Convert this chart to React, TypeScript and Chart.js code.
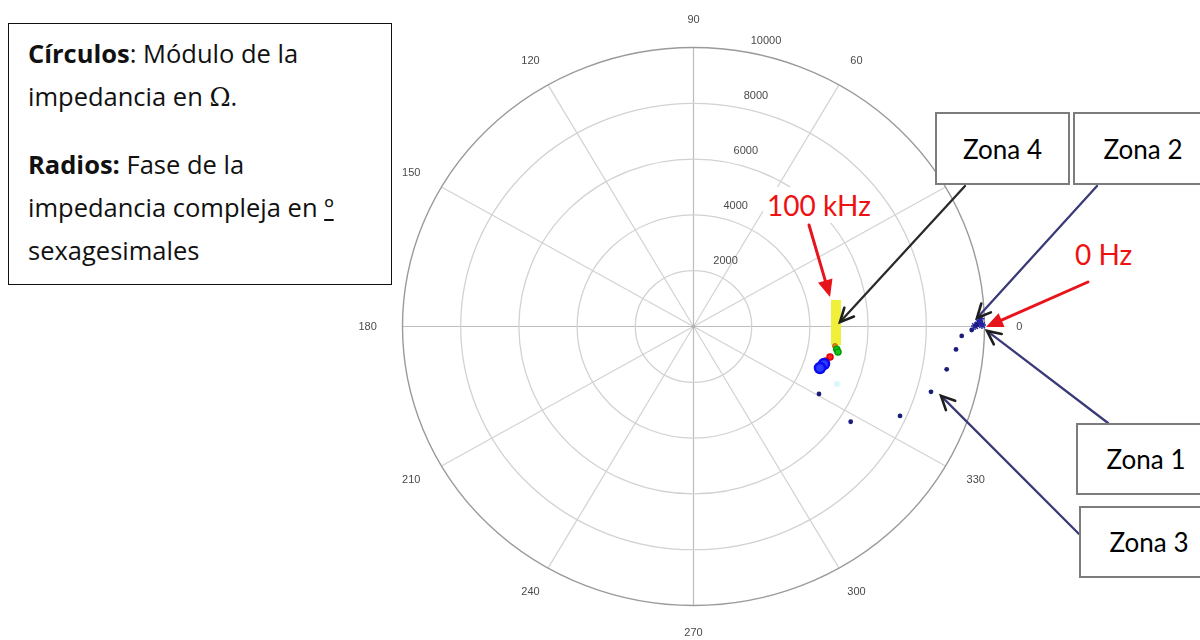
import React, { useEffect, useRef } from "react";
import { Chart, registerables } from "chart.js";

Chart.register(...registerables);

// ---- Polar grid definition ----
const ringValues = [2000, 4000, 6000, 8000, 10000];
const ringLabels = ["2000", "4000", "6000", "8000", "10000"];
const spokeAngles = [0, 30, 60, 90, 120, 150, 180, 210, 240, 270, 300, 330];
const angleLabels = ["0", "30", "60", "90", "120", "150", "180", "210", "240", "270", "300", "330"];
const rMax = 10000;

// ---- Data (module in ohm, phase in degrees) ----
// Zona 1 / Zona 3 : scattered navy dots
const dotsMag = [9732, 9561, 9223, 9058, 8835, 8490, 7787, 6390, 4945];
const dotsPhase = [0.3, -0.75, -2.1, -5.2, -10.0, -16.0, -24.3, -32.3, -29.3];
// Zona 2 : cluster close to 0 Hz
const startMag = [9812, 9914, 9674, 9860];
const startPhase = [0.9, 0.3, 0.1, 1.6];
// Zona 4 : yellow trace ending at 100 kHz
const yellowMag = [4990, 4957, 4932, 4914, 4903, 4897, 4899, 4906, 4921, 4942];
const yellowPhase = [11.0, 8.9, 6.9, 4.8, 2.7, 0.6, -1.5, -3.6, -5.6, -7.7];
// coloured markers at the bottom of the yellow trace
const orangeMag = [4913];
const orangePhase = [-8.2];
const greenMag = [4990, 5049];
const greenPhase = [-9.4, -10.4];
const redMag = [4817, 4718];
const redPhase = [-13.1, -15.2];
const blueMag = [4682, 4594];
const bluePhase = [-16.7, -18.9];
const cyanMag = [5344];
const cyanPhase = [-22.7];

// ---- Annotation arrows: targets in data units, tails in page pixels ----
const arrowTargetMag = [4809, 10052, 5037, 9747, 10087, 8862];
const arrowTargetPhase = [12.7, -0.1, 1.8, 1.8, -0.9, -16.3];
const arrowTailX = [809, 1088, 965, 1097, 1108, 1079];
const arrowTailY = [225, 282, 186, 186, 423, 534];
const arrowColor = ["#e8141c", "#e8141c", "#2a2a2a", "#3a3a78", "#3a3a78", "#3a3a78"];
const arrowHead = ["filled", "filled", "open", "open", "open", "open"];

const rad = (d: number) => (d * Math.PI) / 180;
const toXY = (mags: number[], phases: number[]) =>
  mags.map((m, i) => ({ x: m * Math.cos(rad(phases[i])), y: m * Math.sin(rad(phases[i])) }));

const polarGrid = {
  id: "polarGrid",
  beforeDatasetsDraw(chart: any) {
    const { ctx } = chart;
    const xs = chart.scales.x;
    const ys = chart.scales.y;
    const cx = xs.getPixelForValue(0);
    const cy = ys.getPixelForValue(0);
    const rx = (r: number) => xs.getPixelForValue(r) - cx;
    const ry = (r: number) => cy - ys.getPixelForValue(r);
    ctx.save();
    // spokes
    spokeAngles.forEach((a) => {
      ctx.beginPath();
      ctx.strokeStyle = a % 90 === 0 ? "#bcbcbc" : "#d2d2d2";
      ctx.lineWidth = 1.2;
      ctx.moveTo(cx, cy);
      ctx.lineTo(cx + rx(rMax) * Math.cos(rad(a)), cy - ry(rMax) * Math.sin(rad(a)));
      ctx.stroke();
    });
    // rings
    ringValues.forEach((r) => {
      ctx.beginPath();
      ctx.strokeStyle = r === rMax ? "#9a9a9a" : "#d2d2d2";
      ctx.lineWidth = r === rMax ? 1.4 : 1.3;
      ctx.ellipse(cx, cy, rx(r), ry(r), 0, 0, Math.PI * 2);
      ctx.stroke();
    });
    // center mark
    ctx.fillStyle = "#b0b0b0";
    ctx.beginPath();
    ctx.arc(cx, cy, 1.8, 0, Math.PI * 2);
    ctx.fill();
    // angle labels
    ctx.fillStyle = "#4a4a4a";
    ctx.font = '11px "Liberation Sans", Arial, sans-serif';
    ctx.textAlign = "center";
    ctx.textBaseline = "middle";
    spokeAngles.forEach((a, i) => {
      const lx = cx + rx(rMax) * 1.12 * Math.cos(rad(a));
      const ly = cy - ry(rMax) * 1.1 * Math.sin(rad(a));
      ctx.fillText(angleLabels[i], lx, ly);
    });
    // ring labels
    ringValues.forEach((r, i) => {
      const lx = cx + rx(r) * Math.cos(rad(80)) + 22;
      const ly = cy - ry(r) * Math.sin(rad(80)) - 11;
      ctx.fillText(ringLabels[i], lx, ly);
    });
    ctx.restore();
  },
  afterDatasetsDraw(chart: any) {
    const { ctx } = chart;
    const xs = chart.scales.x;
    const ys = chart.scales.y;
    arrowTargetMag.forEach((m, i) => {
      const tx = xs.getPixelForValue(m * Math.cos(rad(arrowTargetPhase[i])));
      const ty = ys.getPixelForValue(m * Math.sin(rad(arrowTargetPhase[i])));
      const sx = arrowTailX[i];
      const sy = arrowTailY[i];
      const ang = Math.atan2(ty - sy, tx - sx);
      ctx.save();
      ctx.lineCap = "round";
      if (arrowHead[i] === "filled") {
        const hl = 17;
        const hw = 7.5;
        const bx = tx - hl * Math.cos(ang);
        const by = ty - hl * Math.sin(ang);
        ctx.strokeStyle = arrowColor[i];
        ctx.lineWidth = 3;
        ctx.beginPath();
        ctx.moveTo(sx, sy);
        ctx.lineTo(bx, by);
        ctx.stroke();
        ctx.fillStyle = arrowColor[i];
        ctx.beginPath();
        ctx.moveTo(tx, ty);
        ctx.lineTo(bx + hw * Math.sin(ang), by - hw * Math.cos(ang));
        ctx.lineTo(bx - hw * Math.sin(ang), by + hw * Math.cos(ang));
        ctx.closePath();
        ctx.fill();
      } else {
        ctx.strokeStyle = arrowColor[i];
        ctx.lineWidth = 2.3;
        ctx.beginPath();
        ctx.moveTo(sx, sy);
        ctx.lineTo(tx, ty);
        ctx.stroke();
        const hl = 15;
        ctx.strokeStyle = "#1e1e1e";
        ctx.lineWidth = 2.6;
        ctx.beginPath();
        ctx.moveTo(tx - hl * Math.cos(ang - 0.45), ty - hl * Math.sin(ang - 0.45));
        ctx.lineTo(tx, ty);
        ctx.lineTo(tx - hl * Math.cos(ang + 0.45), ty - hl * Math.sin(ang + 0.45));
        ctx.stroke();
      }
      ctx.restore();
    });
  },
};

const textFont = 'Lato, "Open Sans", sans-serif';
const boxFont = '"Open Sans", Lato, sans-serif';

export default function App() {
  const ref = useRef<HTMLCanvasElement | null>(null);

  useEffect(() => {
    if (!ref.current) return;
    const chart = new Chart(ref.current, {
      type: "scatter",
      data: {
        datasets: [
          {
            label: "azul",
            data: toXY(blueMag, bluePhase),
            pointRadius: 5,
            pointBorderWidth: 2.5,
            pointBorderColor: "#0a0af0",
            pointBackgroundColor: "#2a3cff",
            order: 1,
            clip: false,
          } as any,
          {
            label: "rojo",
            data: toXY(redMag, redPhase),
            pointRadius: 3,
            pointBorderWidth: 1.5,
            pointBorderColor: "#e00000",
            pointBackgroundColor: "#ff2020",
            order: 2,
            clip: false,
          },
          {
            label: "verde",
            data: toXY(greenMag, greenPhase),
            pointRadius: 3,
            pointBorderWidth: 1.5,
            pointBorderColor: "#00a000",
            pointBackgroundColor: "#20c020",
            order: 3,
            clip: false,
          },
          {
            label: "naranja",
            data: toXY(orangeMag, orangePhase),
            pointRadius: 2.5,
            pointBorderWidth: 1,
            pointBorderColor: "#c86400",
            pointBackgroundColor: "#e08020",
            order: 4,
            clip: false,
          },
          {
            label: "Zona 4",
            data: toXY(yellowMag, yellowPhase),
            showLine: true,
            borderColor: "#f0f03a",
            borderWidth: 10,
            borderCapStyle: "butt",
            pointRadius: 0,
            order: 6,
            clip: false,
          } as any,
          {
            label: "cian",
            data: toXY(cyanMag, cyanPhase),
            pointRadius: 3,
            pointBorderWidth: 0,
            pointBackgroundColor: "#d8f8fc",
            order: 7,
            clip: false,
          },
          {
            label: "Zona 1 y 3",
            data: toXY(dotsMag, dotsPhase),
            pointRadius: 2.4,
            pointBorderWidth: 0,
            pointBackgroundColor: "#1c1c7c",
            order: 5,
            clip: false,
          },
          {
            label: "Zona 2",
            data: toXY(startMag, startPhase),
            pointStyle: "star",
            pointRadius: 4,
            pointBorderWidth: 1.5,
            pointBorderColor: "#2424a0",
            pointBackgroundColor: "#2424a0",
            order: 5,
            clip: false,
          } as any,
        ],
      },
      options: {
        responsive: false,
        animation: false,
        layout: { padding: { left: 402.5, right: 215.5, top: 47.5, bottom: 34.5 } },
        scales: {
          x: { type: "linear", min: -rMax, max: rMax, display: false },
          y: { type: "linear", min: -rMax, max: rMax, display: false },
        },
        plugins: { legend: { display: false }, tooltip: { enabled: false } },
      },
      plugins: [polarGrid],
    });
    return () => chart.destroy();
  }, []);

  const zonaBox = (left: number, top: number, width: number, height: number, text: string) => (
    <div
      style={{
        position: "absolute",
        left,
        top,
        width,
        height,
        boxSizing: "border-box",
        border: "2.5px solid #7c7c7c",
        background: "#fff",
        display: "flex",
        alignItems: "center",
        justifyContent: "center",
        fontFamily: textFont,
        fontSize: 26,
        color: "#000",
      }}
    >
      {text}
    </div>
  );

  const redLabel = (left: number, top: number, text: string) => (
    <div
      style={{
        position: "absolute",
        left,
        top,
        padding: "0 4px",
        background: "#fff",
        fontFamily: textFont,
        fontSize: 28,
        lineHeight: "36px",
        color: "#ee1111",
        whiteSpace: "nowrap",
      }}
    >
      {text}
    </div>
  );

  return (
    <div style={{ position: "absolute", left: 0, top: 0, width: 1200, height: 640, overflow: "hidden", background: "#fff" }}>
      <canvas ref={ref} width={1200} height={640} style={{ position: "absolute", left: 0, top: 0 }} />
      <div
        style={{
          position: "absolute",
          left: 8,
          top: 23,
          width: 384,
          height: 262,
          boxSizing: "border-box",
          border: "1.6px solid #111",
          background: "#fff",
          padding: "8px 0 0 19px",
          fontFamily: boxFont,
          fontSize: 25.5,
          lineHeight: "43px",
          color: "#111",
          whiteSpace: "nowrap",
        }}
      >
        <div>
          <b>Círculos</b>: Módulo de la
        </div>
        <div>
          impedancia en <span style={{ fontFamily: '"DejaVu Serif", serif' }}>Ω</span>.
        </div>
        <div style={{ marginTop: 24 }}>
          <b>Radios:</b> Fase de la
        </div>
        <div>
          impedancia compleja en <u>º</u>
        </div>
        <div>sexagesimales</div>
      </div>
      {redLabel(763, 187, "100 kHz")}
      {redLabel(1071, 236, "0 Hz")}
      {zonaBox(935, 112, 135, 73, "Zona 4")}
      {zonaBox(1073, 112, 140, 73, "Zona 2")}
      {zonaBox(1076, 423, 140, 72, "Zona 1")}
      {zonaBox(1079, 506, 140, 72, "Zona 3")}
    </div>
  );
}
